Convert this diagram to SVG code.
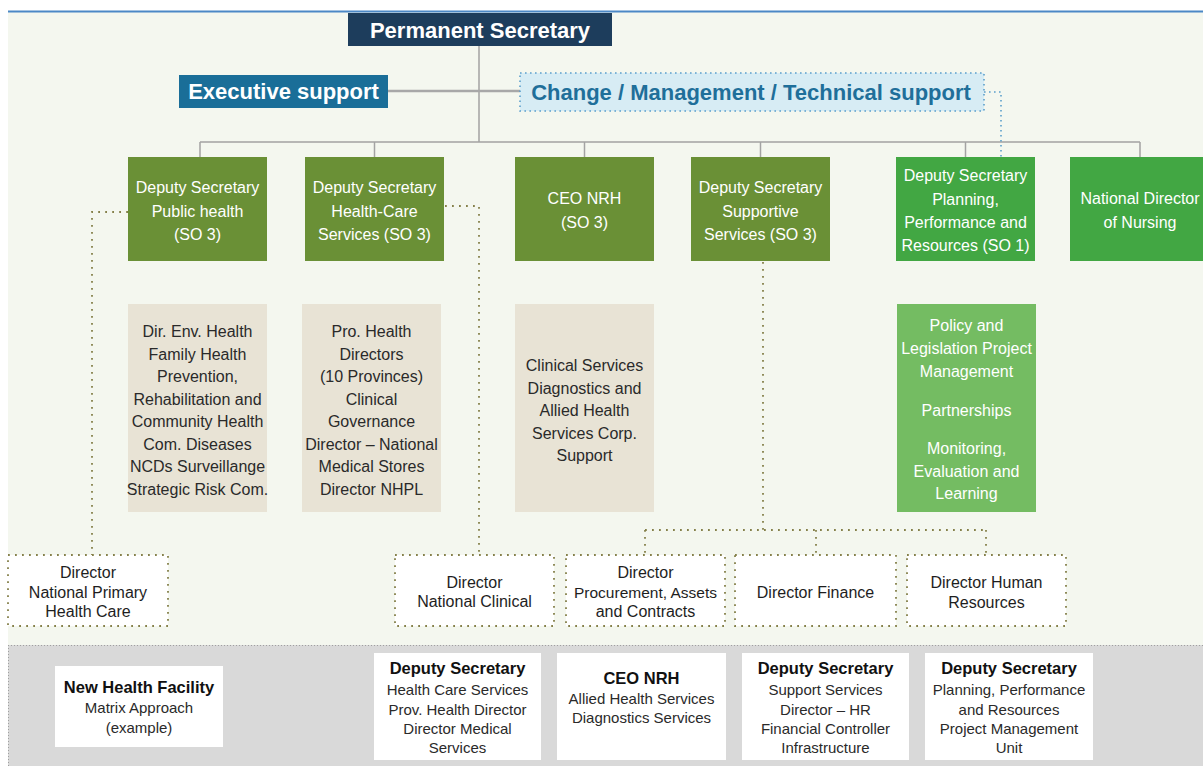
<svg xmlns="http://www.w3.org/2000/svg" width="1203" height="766" viewBox="0 0 1203 766">
  <style>
    text { font-family: "Liberation Sans", Arial, sans-serif; text-anchor: middle; }
    .head { font-size: 22px; font-weight: bold; }
    .w { fill: #ffffff; }
    .g16 { font-size: 16px; fill: #ffffff; }
    .b16 { font-size: 16px; fill: #2a2a2a; }
    .d16 { font-size: 16px; fill: #1e1e1e; }
    .t15 { font-size: 15px; fill: #2a2a2a; }
    .tb { font-size: 16.5px; font-weight: bold; fill: #111111; }
    .olive { fill: #6a9036; }
    .bright { fill: #42a743; }
    .lightg { fill: #74bc62; }
    .beige { fill: #e8e3d5; }
    .dir { fill: #ffffff; stroke: #85804a; stroke-width: 1.8; stroke-dasharray: 1.8 5.2; }
    .plain { fill: #ffffff; }
    .solid { fill: none; stroke: #a3a3a3; stroke-width: 1.5; }
    .dots { fill: none; stroke: #85804a; stroke-width: 1.8; stroke-dasharray: 1.8 5.2; }
    .bdots { fill: none; stroke: #5b9fcb; stroke-width: 1.6; stroke-dasharray: 1.6 3.4; }
  </style>

  <!-- backgrounds -->
  <rect x="0" y="0" width="1203" height="766" fill="#ffffff"/>
  <rect x="8" y="12" width="1195" height="633" fill="#f4f7ef"/>
  <line x1="8" y1="11.5" x2="1203" y2="11.5" stroke="#4b88c6" stroke-width="2"/>
  <rect x="8" y="645" width="1195" height="121" fill="#d9d9d9"/>
  <path d="M8 645.5 H1203 M8.5 645 V766" fill="none" stroke="#a0a0a0" stroke-width="1" stroke-dasharray="1 2"/>

  <!-- connectors -->
  <g id="connectors">
    <path class="solid" d="M479 46 V142 M200 142 H1140 M200 142 V157 M374.5 142 V157 M584.5 142 V157 M760.5 142 V157 M965.5 142 V157 M1140 142 V157"/>
    <line x1="388" y1="91" x2="520" y2="91" stroke="#a8a8a8" stroke-width="2.5"/>
    <path class="bdots" d="M984 92 H1001 V157"/>
    <path class="dots" d="M128 212 H92 V555"/>
    <path class="dots" d="M445 206 H479 V555"/>
    <path class="dots" d="M763 262 V530 M645 530 H986 M645 530 V555 M816 530 V555 M986 530 V555"/>
  </g>

  <!-- top level -->
  <g id="permanent-secretary">
    <rect x="348" y="13" width="264" height="33" fill="#1d3d5c"/>
    <text x="480" y="37.5" class="head w">Permanent Secretary</text>
  </g>
  <g id="executive-support">
    <rect x="179" y="75" width="209" height="33" fill="#1a6e98"/>
    <text x="283.5" y="99" class="head w">Executive support</text>
  </g>
  <g id="change-support">
    <rect x="520" y="73" width="464" height="38" fill="#d7ecf4" stroke="#5b9fcb" stroke-width="1.6" stroke-dasharray="1.6 3.4"/>
    <text x="751" y="100" class="head" fill="#1f6f9a">Change / Management / Technical support</text>
  </g>

  <!-- deputy level -->
  <g id="ds-public-health">
    <rect x="128" y="157" width="139" height="104" class="olive"/>
    <text x="197.5" y="193" class="g16">Deputy Secretary</text>
    <text x="197.5" y="217" class="g16">Public health</text>
    <text x="197.5" y="240" class="g16">(SO 3)</text>
  </g>
  <g id="ds-health-care">
    <rect x="305" y="157" width="139" height="104" class="olive"/>
    <text x="374.5" y="193" class="g16">Deputy Secretary</text>
    <text x="374.5" y="217" class="g16">Health-Care</text>
    <text x="374.5" y="240" class="g16">Services (SO 3)</text>
  </g>
  <g id="ceo-nrh">
    <rect x="515" y="157" width="139" height="104" class="olive"/>
    <text x="584.5" y="204" class="g16">CEO NRH</text>
    <text x="584.5" y="228" class="g16">(SO 3)</text>
  </g>
  <g id="ds-supportive">
    <rect x="691" y="157" width="139" height="104" class="olive"/>
    <text x="760.5" y="193" class="g16">Deputy Secretary</text>
    <text x="760.5" y="217" class="g16">Supportive</text>
    <text x="760.5" y="240" class="g16">Services (SO 3)</text>
  </g>
  <g id="ds-planning">
    <rect x="896" y="157" width="139" height="104" class="bright"/>
    <text x="965.5" y="181" class="g16">Deputy Secretary</text>
    <text x="965.5" y="205" class="g16">Planning,</text>
    <text x="965.5" y="228" class="g16">Performance and</text>
    <text x="965.5" y="251" class="g16">Resources (SO 1)</text>
  </g>
  <g id="national-nursing">
    <rect x="1070" y="157" width="140" height="104" class="bright"/>
    <text x="1140" y="204" class="g16">National Director</text>
    <text x="1140" y="228" class="g16">of Nursing</text>
  </g>

  <!-- units -->
  <g id="units-public-health">
    <rect x="128" y="304" width="139" height="208" class="beige"/>
    <text x="197.5" y="337" class="b16">Dir. Env. Health</text>
    <text x="197.5" y="359.6" class="b16">Family Health</text>
    <text x="197.5" y="382.1" class="b16">Prevention,</text>
    <text x="197.5" y="404.7" class="b16">Rehabilitation and</text>
    <text x="197.5" y="427.3" class="b16">Community Health</text>
    <text x="197.5" y="449.9" class="b16">Com. Diseases</text>
    <text x="197.5" y="472.4" class="b16">NCDs Surveillange</text>
    <text x="197.5" y="495" class="b16">Strategic Risk Com.</text>
  </g>
  <g id="units-health-care">
    <rect x="302" y="304" width="139" height="208" class="beige"/>
    <text x="371.5" y="337" class="b16">Pro. Health</text>
    <text x="371.5" y="359.6" class="b16">Directors</text>
    <text x="371.5" y="382.1" class="b16">(10 Provinces)</text>
    <text x="371.5" y="404.7" class="b16">Clinical</text>
    <text x="371.5" y="427.3" class="b16">Governance</text>
    <text x="371.5" y="449.9" class="b16">Director – National</text>
    <text x="371.5" y="472.4" class="b16">Medical Stores</text>
    <text x="371.5" y="495" class="b16">Director NHPL</text>
  </g>
  <g id="units-ceo-nrh">
    <rect x="515" y="304" width="139" height="208" class="beige"/>
    <text x="584.5" y="371" class="b16">Clinical Services</text>
    <text x="584.5" y="393.6" class="b16">Diagnostics and</text>
    <text x="584.5" y="416.2" class="b16">Allied Health</text>
    <text x="584.5" y="438.8" class="b16">Services Corp.</text>
    <text x="584.5" y="461.4" class="b16">Support</text>
  </g>
  <g id="units-planning">
    <rect x="897" y="304" width="139" height="208" class="lightg"/>
    <text x="966.5" y="331" class="g16">Policy and</text>
    <text x="966.5" y="354" class="g16">Legislation Project</text>
    <text x="966.5" y="377" class="g16">Management</text>
    <text x="966.5" y="416" class="g16">Partnerships</text>
    <text x="966.5" y="454" class="g16">Monitoring,</text>
    <text x="966.5" y="477" class="g16">Evaluation and</text>
    <text x="966.5" y="499" class="g16">Learning</text>
  </g>

  <!-- directors -->
  <g id="dir-primary">
    <rect x="8" y="555" width="160" height="71" class="dir"/>
    <text x="88" y="578" class="d16">Director</text>
    <text x="88" y="598" class="d16">National Primary</text>
    <text x="88" y="617" class="d16">Health Care</text>
  </g>
  <g id="dir-clinical">
    <rect x="395" y="555" width="159" height="71" class="dir"/>
    <text x="474.5" y="588" class="d16">Director</text>
    <text x="474.5" y="607" class="d16">National Clinical</text>
  </g>
  <g id="dir-procurement">
    <rect x="566" y="555" width="159" height="71" class="dir"/>
    <text x="645.5" y="578" class="d16">Director</text>
    <text x="645.5" y="598" class="d16" style="font-size:15.5px">Procurement, Assets</text>
    <text x="645.5" y="617" class="d16">and Contracts</text>
  </g>
  <g id="dir-finance">
    <rect x="735" y="555" width="161" height="71" class="dir"/>
    <text x="815.5" y="598" class="d16">Director Finance</text>
  </g>
  <g id="dir-hr">
    <rect x="907" y="555" width="159" height="71" class="dir"/>
    <text x="986.5" y="588" class="d16">Director Human</text>
    <text x="986.5" y="608" class="d16">Resources</text>
  </g>

  <!-- matrix example -->
  <g id="matrix-new-facility">
    <rect x="55" y="666" width="168" height="81" class="plain"/>
    <text x="139" y="693" class="tb">New Health Facility</text>
    <text x="139" y="713" class="t15">Matrix Approach</text>
    <text x="139" y="733" class="t15">(example)</text>
  </g>
  <g id="matrix-ds-health-care">
    <rect x="374" y="653" width="167" height="107" class="plain"/>
    <text x="457.5" y="674" class="tb">Deputy Secretary</text>
    <text x="457.5" y="695" class="t15">Health Care Services</text>
    <text x="457.5" y="715" class="t15">Prov. Health Director</text>
    <text x="457.5" y="734" class="t15">Director Medical</text>
    <text x="457.5" y="753" class="t15">Services</text>
  </g>
  <g id="matrix-ceo-nrh">
    <rect x="557" y="653" width="169" height="107" class="plain"/>
    <text x="641.5" y="684" class="tb">CEO NRH</text>
    <text x="641.5" y="704" class="t15">Allied Health Services</text>
    <text x="641.5" y="723" class="t15">Diagnostics Services</text>
  </g>
  <g id="matrix-ds-support">
    <rect x="742" y="653" width="167" height="107" class="plain"/>
    <text x="825.5" y="674" class="tb">Deputy Secretary</text>
    <text x="825.5" y="695" class="t15">Support Services</text>
    <text x="825.5" y="715" class="t15">Director – HR</text>
    <text x="825.5" y="734" class="t15">Financial Controller</text>
    <text x="825.5" y="753" class="t15">Infrastructure</text>
  </g>
  <g id="matrix-ds-planning">
    <rect x="925" y="653" width="168" height="107" class="plain"/>
    <text x="1009" y="674" class="tb">Deputy Secretary</text>
    <text x="1009" y="695" class="t15">Planning, Performance</text>
    <text x="1009" y="715" class="t15">and Resources</text>
    <text x="1009" y="734" class="t15">Project Management</text>
    <text x="1009" y="753" class="t15">Unit</text>
  </g>
</svg>
